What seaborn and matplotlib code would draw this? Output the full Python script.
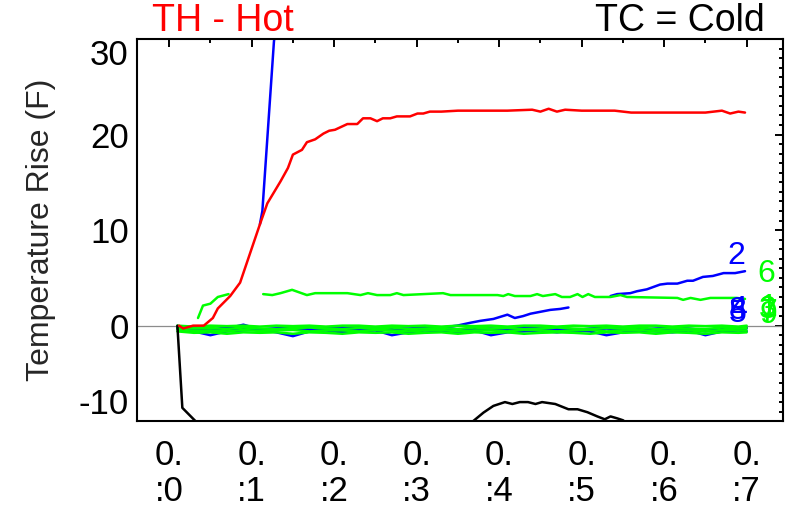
import numpy as np
import matplotlib
matplotlib.use("Agg")
import matplotlib.pyplot as plt
from matplotlib.ticker import MultipleLocator
import seaborn as sns

# ---- data ----
# shared time grid for the flat channels near zero
t_flat = [0.1, 0.3, 0.5, 0.7, 0.9, 1.1, 1.3, 1.5, 1.7, 1.9, 2.1, 2.3, 2.5, 2.7, 2.9,
          3.1, 3.3, 3.5, 3.7, 3.9, 4.1, 4.3, 4.5, 4.7, 4.9, 5.1, 5.3, 5.5, 5.7, 5.9,
          6.1, 6.3, 6.5, 6.7, 6.9, 7.0]

green_1 = [0.0, -0.1, 0.0, -0.05, 0.0, -0.1, 0.0, -0.05, 0.0, -0.1, 0.0, 0.0, -0.1, 0.0, -0.05,
           0.0, -0.1, 0.0, -0.05, 0.0, -0.1, 0.0, 0.0, -0.1, 0.0, -0.05, 0.0, -0.1, 0.0, 0.0,
           -0.1, 0.0, -0.05, 0.0, -0.1, 0.0]
green_3 = [-0.2, -0.3, -0.25, -0.35, -0.2, -0.3, -0.35, -0.25, -0.2, -0.3, -0.35, -0.25, -0.3, -0.2, -0.35,
           -0.3, -0.25, -0.35, -0.2, -0.3, -0.25, -0.35, -0.3, -0.2, -0.3, -0.35, -0.25, -0.3, -0.2, -0.35,
           -0.25, -0.3, -0.35, -0.2, -0.3, -0.25]
green_7 = [-0.4, -0.55, -0.5, -0.6, -0.45, -0.55, -0.5, -0.45, -0.6, -0.5, -0.5, -0.6, -0.45, -0.5, -0.6,
           -0.5, -0.45, -0.6, -0.5, -0.5, -0.6, -0.45, -0.5, -0.6, -0.5, -0.45, -0.6, -0.5, -0.45, -0.6,
           -0.5, -0.5, -0.6, -0.45, -0.5, -0.5]
green_9 = [-0.6, -0.75, -0.7, -0.85, -0.7, -0.75, -0.7, -0.85, -0.7, -0.75, -0.85, -0.7, -0.75, -0.7, -0.85,
           -0.75, -0.7, -0.85, -0.7, -0.75, -0.7, -0.85, -0.75, -0.7, -0.75, -0.85, -0.7, -0.75, -0.7, -0.85,
           -0.7, -0.75, -0.85, -0.7, -0.75, -0.7]
blue_4 = [-0.2, -0.3, -0.5, -0.3, 0.1, -0.4, -0.3, -0.2, -0.5, -0.3, -0.2, -0.4, -0.3, -0.3, -0.5,
          -0.3, -0.2, -0.4, -0.3, -0.3, -0.4, -0.2, -0.3, -0.3, -0.5, -0.3, -0.2, -0.3, -0.4, -0.3,
          -0.2, -0.3, -0.5, -0.3, -0.3, -0.2]
blue_5 = [-0.3, -0.6, -1.0, -0.6, -0.5, -0.4, -0.7, -1.1, -0.6, -0.5, -0.7, -0.6, -0.5, -1.0, -0.7,
          -0.5, -0.6, -0.7, -0.5, -1.0, -0.7, -0.6, -0.5, -0.7, -0.5, -0.6, -1.0, -0.7, -0.5, -0.6,
          -0.7, -0.5, -1.0, -0.6, -0.5, -0.6]
blue_8 = [-0.1, -0.4, -0.5, -0.4, -0.3, -0.5, -0.4, -0.3, -0.6, -0.4, -0.3, -0.5, -0.4, -0.4, -0.6,
          -0.4, -0.3, -0.5, -0.4, -0.4, -0.5, -0.3, -0.4, -0.4, -0.6, -0.4, -0.3, -0.4, -0.5, -0.4,
          -0.3, -0.4, -0.6, -0.4, -0.4, -0.3]

# channel 2 (blue): flat, then climbing, with a gap in the record
t_blue2 = [0.1, 0.3, 0.5, 0.7, 0.9, 1.1, 1.3, 1.5, 1.7, 1.9, 2.1, 2.3, 2.5, 2.7, 2.9, 3.1, 3.3,
           3.49, 3.65, 3.77, 3.93, 4.10, 4.19, 4.29, 4.38, 4.50, 4.62, 4.74, 4.84,
           5.10,
           5.35, 5.43, 5.59, 5.67, 5.79, 5.95, 6.04, 6.16, 6.28, 6.35, 6.47, 6.59, 6.72, 6.86, 6.98]
blue_2 = [-0.1, -0.3, -0.4, -0.2, -0.3, -0.4, -0.3, -0.2, -0.4, -0.3, -0.3, -0.2, -0.4, -0.3, -0.3, -0.2, -0.2,
          0.0, 0.3, 0.5, 0.7, 1.15, 0.8, 1.0, 1.25, 1.45, 1.65, 1.75, 1.9,
          np.nan,
          3.1, 3.3, 3.4, 3.6, 3.8, 4.3, 4.4, 4.4, 4.7, 4.7, 5.1, 5.2, 5.5, 5.5, 5.7]

# channel 6 (green): about +3 F, with a gap
t_green6 = [0.35, 0.41, 0.50, 0.59, 0.72, 0.90, 1.14, 1.25, 1.35, 1.49, 1.67, 1.77, 2.16, 2.32, 2.41,
            2.52, 2.68, 2.76, 2.84, 3.32, 3.41, 3.61, 3.98, 4.05, 4.11, 4.19, 4.38, 4.46, 4.53,
            4.68, 4.76, 4.86, 4.95, 5.01, 5.08, 5.16, 5.35, 5.47, 5.55, 6.16, 6.23, 6.32, 6.44,
            6.56, 6.88, 6.98]
green_6 = [0.8, 2.1, 2.3, 3.0, 3.3, np.nan, 3.3, 3.2, 3.4, 3.75, 3.2, 3.4, 3.4, 3.2, 3.4,
           3.2, 3.2, 3.4, 3.2, 3.4, 3.2, 3.2, 3.2, 3.1, 3.3, 3.1, 3.1, 3.3, 3.1,
           3.3, 3.0, 3.0, 3.3, 3.0, 3.3, 3.0, 3.0, 3.2, 3.0, 2.9, 2.7, 2.9, 2.7,
           2.9, 2.9, 2.8]

# unlabelled blue channel that runs off the top
t_blue_hot = [1.10, 1.13, 1.27, 1.30, 1.60, 3.00, 7.00]
blue_hot = [10.6, 12.0, 29.7, 32.0, 60.0, 70.0, 70.0]

# TH - hot side (red)
t_hot = [0.12, 0.17, 0.29, 0.42, 0.53, 0.59, 0.74, 0.86, 1.10, 1.19, 1.35, 1.44, 1.50, 1.61,
         1.67, 1.77, 1.87, 1.94, 2.01, 2.16, 2.28, 2.35, 2.44, 2.52, 2.59, 2.68, 2.76, 2.92,
         3.01, 3.08, 3.16, 3.30, 3.50, 3.80, 4.10, 4.40, 4.50, 4.60, 4.70, 4.80, 5.00, 5.20,
         5.40, 5.60, 5.90, 6.20, 6.50, 6.70, 6.80, 6.90, 6.98]
th_hot = [0.0, -0.3, 0.0, 0.0, 0.8, 1.8, 3.1, 4.5, 10.6, 12.8, 15.1, 16.5, 17.9, 18.4,
          19.2, 19.5, 20.1, 20.4, 20.5, 21.1, 21.1, 21.7, 21.7, 21.4, 21.7, 21.7, 21.9, 21.9,
          22.2, 22.2, 22.4, 22.4, 22.5, 22.5, 22.5, 22.6, 22.4, 22.7, 22.4, 22.6, 22.5, 22.5,
          22.5, 22.3, 22.3, 22.3, 22.3, 22.5, 22.2, 22.4, 22.3]

# TC - cold side (black), mostly below the axis floor
t_cold = [0.10, 0.16, 0.32, 0.50, 1.00, 2.00, 3.00, 3.50, 3.67, 3.81, 3.93, 4.07, 4.16, 4.25,
          4.35, 4.44, 4.52, 4.68, 4.84, 4.95, 5.07, 5.19, 5.28, 5.35, 5.43, 5.50, 5.65, 6.00,
          6.50, 7.00]
tc_cold = [0.0, -8.6, -10.0, -12.0, -14.0, -15.0, -13.5, -11.0, -10.1, -9.1, -8.4, -8.0, -8.2, -8.0,
           -8.0, -8.2, -8.0, -8.2, -8.75, -8.75, -9.06, -9.5, -9.8, -9.5, -9.7, -9.9, -10.8, -12.0,
           -13.0, -13.5]

x_ticks = [0, 1, 2, 3, 4, 5, 6, 7]
x_ticklabels = ["0.\n:0", "0.\n:1", "0.\n:2", "0.\n:3", "0.\n:4", "0.\n:5", "0.\n:6", "0.\n:7"]
y_ticks = [-10, 0, 10, 20, 30]

RED, BLUE, GREEN = "#ff0000", "#0000ff", "#00ff00"
LW = 1.8

sns.set_theme(style="white")
plt.rcParams["font.family"] = ["Liberation Sans", "DejaVu Sans"]
plt.rcParams["axes.unicode_minus"] = False


def draw(ax, x, y, color):
    """draw a series with seaborn, breaking the line where the record has gaps"""
    x = np.asarray(x, dtype=float)
    y = np.asarray(y, dtype=float)
    seg = np.cumsum(np.isnan(y))
    ok = ~np.isnan(y)
    for s in np.unique(seg[ok]):
        m = ok & (seg == s)
        sns.lineplot(x=x[m], y=y[m], color=color, lw=LW, ax=ax, sort=False,
                     estimator=None, legend=False)


fig = plt.figure(figsize=(7.94, 5.2), dpi=100)
ax = fig.add_axes([0.1725, 0.19, 0.8136, 0.735])

ax.axhline(0, color="#8c8c8c", lw=0.9, zorder=1)

# blue channels first so the green bundle covers them near zero
draw(ax, t_flat, blue_4, BLUE)
draw(ax, t_flat, blue_5, BLUE)
draw(ax, t_flat, blue_8, BLUE)
draw(ax, t_blue2, blue_2, BLUE)
draw(ax, t_flat, green_1, GREEN)
draw(ax, t_flat, green_3, GREEN)
draw(ax, t_flat, green_7, GREEN)
draw(ax, t_flat, green_9, GREEN)
draw(ax, t_green6, green_6, GREEN)
draw(ax, t_blue_hot, blue_hot, BLUE)
draw(ax, t_cold, tc_cold, "black")
draw(ax, t_hot, th_hot, RED)

# channel numbers at the end of each trace (they pile up, as in the original)
lab_fs = 23
ax.annotate("2", (t_blue2[-1], blue_2[-1]), xytext=(0, 0), textcoords="offset points",
            ha="right", va="bottom", color=BLUE, fontsize=lab_fs)
for lab, ys in [("8", blue_8), ("4", blue_4), ("5", blue_5)]:
    ax.annotate(lab, (t_flat[-1], ys[-1]), xytext=(0, 2), textcoords="offset points",
                ha="right", va="bottom", color=BLUE, fontsize=lab_fs)
ax.annotate("6", (t_green6[-1], green_6[-1]), xytext=(9, 7), textcoords="offset points",
            ha="left", va="bottom", color=GREEN, fontsize=lab_fs)
for lab, ys in [("1", green_1), ("3", green_3), ("7", green_7), ("9", green_9)]:
    ax.annotate(lab, (t_flat[-1], ys[-1]), xytext=(9, 2), textcoords="offset points",
                ha="left", va="bottom", color=GREEN, fontsize=lab_fs)

ax.set_xlim(-0.39, 7.44)
ax.set_ylim(-10, 30)
ax.set_xticks(x_ticks)
ax.set_xticklabels(x_ticklabels, fontsize=25, linespacing=1.1)
ax.set_yticks(y_ticks)
ax.set_yticklabels([str(v) for v in y_ticks], fontsize=25)
# end labels sit inside the axis range, like the original
ylabs = ax.get_yticklabels()
ylabs[0].set_va("bottom")
ylabs[-1].set_va("top")
ax.xaxis.set_minor_locator(MultipleLocator(0.5))
ax.yaxis.set_minor_locator(MultipleLocator(1))
ax.tick_params(which="both", direction="in", top=True, right=True, width=1.4, colors="black")
ax.tick_params(which="major", length=6)
ax.tick_params(which="minor", length=3)
ax.tick_params(axis="x", which="major", pad=13)
ax.tick_params(axis="y", which="major", pad=6)
for sp in ax.spines.values():
    sp.set_linewidth(1.5)
    sp.set_color("black")

ax.set_xlabel("")
ax.set_ylabel("Temperature Rise (F)", fontsize=23, labelpad=16)

ax.text(0.023, 1.021, "TH - Hot", transform=ax.transAxes, color=RED, fontsize=27,
        ha="left", va="baseline")
ax.text(0.972, 1.021, "TC = Cold", transform=ax.transAxes, color="black", fontsize=27,
        ha="right", va="baseline")

fig.savefig("out.png", dpi=100)
